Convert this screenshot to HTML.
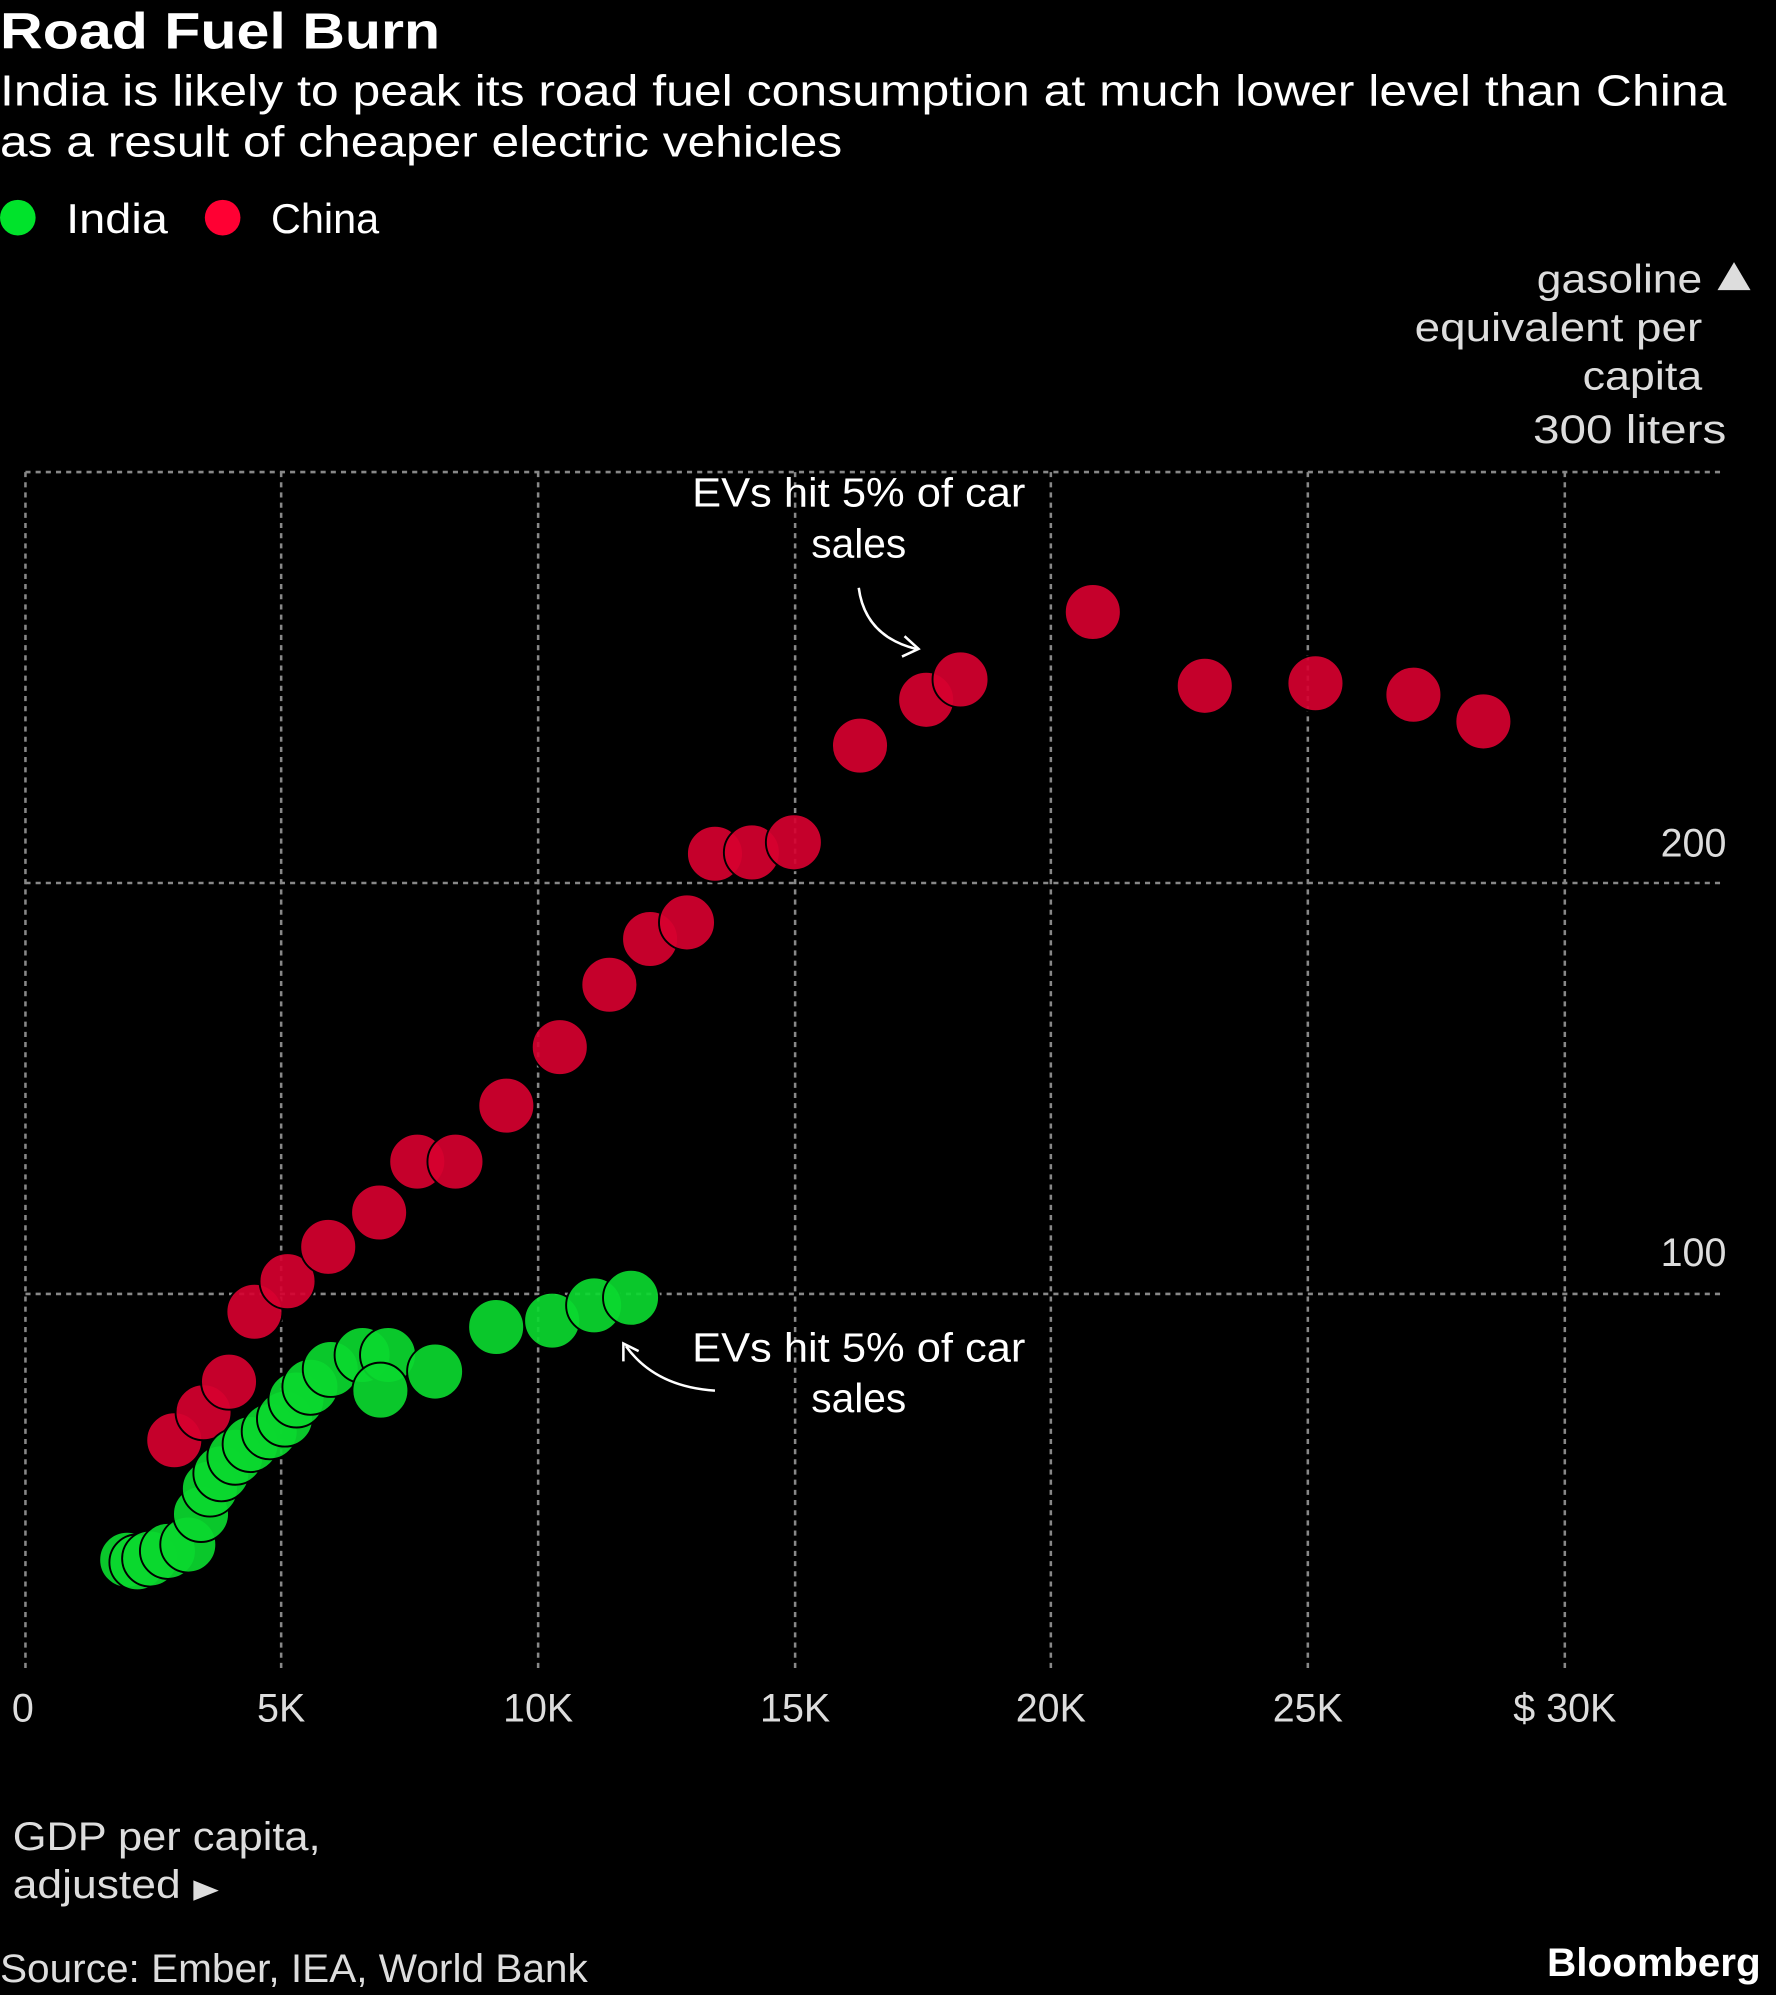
<!DOCTYPE html>
<html><head><meta charset="utf-8"><style>
html,body{margin:0;padding:0;background:#000;}
svg{display:block}
text{font-family:"Liberation Sans",sans-serif;fill:#fff}
.g{fill:#ddd}
</style></head><body>
<svg width="1776" height="1995" viewBox="0 0 1396 1568" xmlns="http://www.w3.org/2000/svg">
<rect width="1396" height="1568" fill="#000"/>
<text x="0" y="38" font-size="40" font-weight="bold" textLength="346" lengthAdjust="spacingAndGlyphs">Road Fuel Burn</text>
<text x="0" y="83" font-size="34" textLength="1357" lengthAdjust="spacingAndGlyphs">India is likely to peak its road fuel consumption at much lower level than China</text>
<text x="0" y="123" font-size="34" textLength="662" lengthAdjust="spacingAndGlyphs">as a result of cheaper electric vehicles</text>
<circle cx="14" cy="171" r="14" fill="#00e32b"/>
<text x="52" y="183" font-size="33" textLength="80" lengthAdjust="spacingAndGlyphs">India</text>
<circle cx="175" cy="171" r="14" fill="#ff0033"/>
<text x="213" y="183" font-size="33" textLength="85" lengthAdjust="spacingAndGlyphs">China</text>
<g font-size="31" text-anchor="end">
<text x="1338" y="230" class="g" textLength="130" lengthAdjust="spacingAndGlyphs">gasoline</text>
<text x="1338" y="268" class="g" textLength="226" lengthAdjust="spacingAndGlyphs">equivalent per</text>
<text x="1338" y="306" class="g" textLength="94" lengthAdjust="spacingAndGlyphs">capita</text>
<text x="1357" y="348" class="g" textLength="152" lengthAdjust="spacingAndGlyphs">300 liters</text>
<text x="1357" y="673" class="g">200</text>
<text x="1357" y="995" class="g">100</text>
</g>
<polygon points="1363,206 1376,228 1350,228" fill="#ddd"/>
<g stroke="#888" stroke-width="2" stroke-dasharray="4,4" fill="none">
<line x1="20" y1="371" x2="1356" y2="371"/>
<line x1="20" y1="694" x2="1356" y2="694"/>
<line x1="20" y1="1017" x2="1356" y2="1017"/>
<line x1="20" y1="371" x2="20" y2="1315"/>
<line x1="221" y1="371" x2="221" y2="1315"/>
<line x1="423" y1="371" x2="423" y2="1315"/>
<line x1="625" y1="371" x2="625" y2="1315"/>
<line x1="826" y1="371" x2="826" y2="1315"/>
<line x1="1028" y1="371" x2="1028" y2="1315"/>
<line x1="1230" y1="371" x2="1230" y2="1315"/>
</g>
<g font-size="31" text-anchor="middle">
<text x="18" y="1353" class="g">0</text>
<text x="221" y="1353" class="g">5K</text>
<text x="423" y="1353" class="g">10K</text>
<text x="625" y="1353" class="g">15K</text>
<text x="826" y="1353" class="g">20K</text>
<text x="1028" y="1353" class="g">25K</text>
<text x="1230" y="1353" class="g">$ 30K</text>
</g>
<g fill="#d6002f" fill-opacity="0.92" stroke="#000" stroke-width="1.5">
<circle cx="137" cy="1132" r="22"/><circle cx="160" cy="1110" r="22"/><circle cx="180" cy="1086" r="22"/><circle cx="200" cy="1031" r="22"/><circle cx="226" cy="1007" r="22"/><circle cx="258" cy="980" r="22"/><circle cx="298" cy="953" r="22"/><circle cx="328" cy="913" r="22"/><circle cx="358" cy="913" r="22"/><circle cx="398" cy="869" r="22"/><circle cx="440" cy="823" r="22"/><circle cx="479" cy="774" r="22"/><circle cx="511" cy="738" r="22"/><circle cx="540" cy="725" r="22"/><circle cx="562" cy="671" r="22"/><circle cx="591" cy="670" r="22"/><circle cx="624" cy="662" r="22"/><circle cx="676" cy="586" r="22"/><circle cx="728" cy="550" r="22"/><circle cx="755" cy="534" r="22"/><circle cx="859" cy="481" r="22"/><circle cx="947" cy="539" r="22"/><circle cx="1034" cy="537" r="22"/><circle cx="1111" cy="546" r="22"/><circle cx="1166" cy="567" r="22"/>
</g>
<g fill="#0bd82f" fill-opacity="0.92" stroke="#000" stroke-width="1.5">
<circle cx="100" cy="1226" r="22"/><circle cx="108" cy="1228" r="22"/><circle cx="118" cy="1225" r="22"/><circle cx="132" cy="1219" r="22"/><circle cx="148" cy="1214" r="22"/><circle cx="158" cy="1190" r="22"/><circle cx="165" cy="1170" r="22"/><circle cx="174" cy="1158" r="22"/><circle cx="185" cy="1145" r="22"/><circle cx="197" cy="1135" r="22"/><circle cx="212" cy="1125" r="22"/><circle cx="224" cy="1115" r="22"/><circle cx="233" cy="1100" r="22"/><circle cx="244" cy="1090" r="22"/><circle cx="260" cy="1076" r="22"/><circle cx="285" cy="1065" r="22"/><circle cx="305" cy="1065" r="22"/><circle cx="299" cy="1093" r="22"/><circle cx="342" cy="1078" r="22"/><circle cx="390" cy="1043" r="22"/><circle cx="434" cy="1038" r="22"/><circle cx="467" cy="1026" r="22"/><circle cx="496" cy="1020" r="22"/>
</g>
<g font-size="32" text-anchor="middle">
<text x="675" y="398" textLength="262" lengthAdjust="spacingAndGlyphs">EVs hit 5% of car</text>
<text x="675" y="438">sales</text>
<text x="675" y="1070" textLength="262" lengthAdjust="spacingAndGlyphs">EVs hit 5% of car</text>
<text x="675" y="1110">sales</text>
</g>
<g stroke="#fff" stroke-width="2" fill="none">
<path d="M675,462 Q680,500 720,510"/><path d="M711,500 L722,510 L709,516"/>
<path d="M562,1093 Q515,1090 492,1058"/><path d="M490,1070 L490,1056 L502,1062"/>
</g>
<text x="10" y="1454" font-size="31" class="g" textLength="242" lengthAdjust="spacingAndGlyphs">GDP per capita,</text>
<text x="10" y="1492" font-size="31" class="g" textLength="132" lengthAdjust="spacingAndGlyphs">adjusted</text>
<polygon points="152,1478 172,1486 152,1494" fill="#ddd"/>
<text x="0" y="1558" font-size="31" class="g" textLength="462" lengthAdjust="spacingAndGlyphs">Source: Ember, IEA, World Bank</text>
<text x="1384" y="1553" font-size="31" font-weight="bold" text-anchor="end" textLength="168" lengthAdjust="spacingAndGlyphs">Bloomberg</text>
</svg>
</body></html>
